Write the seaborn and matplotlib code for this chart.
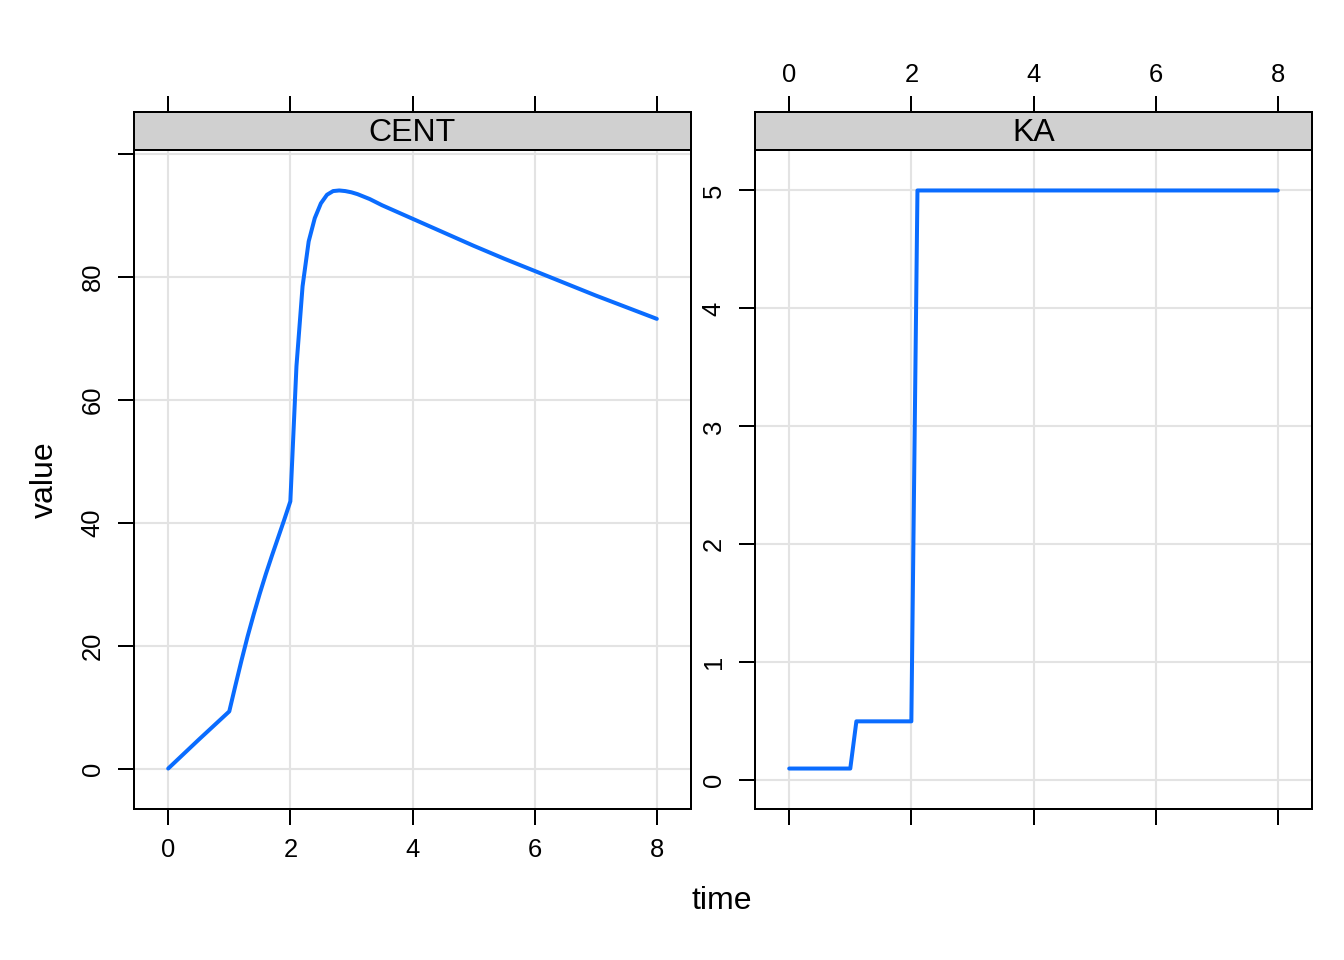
import matplotlib
matplotlib.use("Agg")
import matplotlib.pyplot as plt
import seaborn as sns
import numpy as np
import pandas as pd

# values
cent_time = [0, 0.5, 1.0, 1.1, 1.2, 1.3, 1.4, 1.5, 1.6, 1.7, 1.8, 1.9, 2.0,
             2.1, 2.2, 2.3, 2.4, 2.5, 2.6, 2.7, 2.8, 2.9, 3.0,
             3.1, 3.2, 3.3, 3.4, 3.5, 3.75, 4.0, 4.5, 5.0, 5.5, 6.0,
             6.5, 7.0, 7.5, 8.0]
cent_value = [0, 4.7, 9.3, 13.5, 17.6, 21.5, 25.1, 28.5, 31.7, 34.7, 37.6, 40.5, 43.5,
              65.5, 78.5, 85.8, 89.6, 92.0, 93.4, 94.0, 94.1, 94.0, 93.8,
              93.5, 93.1, 92.7, 92.2, 91.7, 90.6, 89.5, 87.3, 85.1, 83.0, 81.0,
              79.0, 77.0, 75.1, 73.2]
ka_time = [0, 1.0, 1.1, 2.0, 2.1, 8.0]
ka_value = [0.1, 0.1, 0.5, 0.5, 5.0, 5.0]

panels = ["CENT", "KA"]
x_ticks = [0, 2, 4, 6, 8]
cent_ticks = [0, 20, 40, 60, 80, 100]
cent_labels = ["0", "20", "40", "60", "80", ""]
ka_ticks = [0, 1, 2, 3, 4, 5]

line_col = "#0a6cff"
grid_col = "#e3e3e3"
strip_col = "#d0d0d0"

sns.set_style("white")
plt.rcParams["font.family"] = ["Liberation Sans", "DejaVu Sans"]
plt.rcParams["text.color"] = "black"
plt.rcParams["xtick.color"] = "black"
plt.rcParams["ytick.color"] = "black"
plt.rcParams["axes.labelcolor"] = "black"

df = pd.concat([
    pd.DataFrame({"time": cent_time, "value": cent_value, "name": "CENT"}),
    pd.DataFrame({"time": ka_time, "value": ka_value, "name": "KA"}),
])


def padded(lo, hi, f=0.07):
    d = hi - lo
    return lo - f * d, hi + f * d


W, H = 1344, 960
fig = plt.figure(figsize=(7, 5), dpi=192)

panel_left = [134, 755]
panel_w = 557
panel_top, panel_bot, strip_top = 150, 809, 112

for i, name in enumerate(panels):
    sub = df[df["name"] == name]
    ax = fig.add_axes([panel_left[i] / W, 1 - panel_bot / H,
                       panel_w / W, (panel_bot - panel_top) / H])
    st = fig.add_axes([panel_left[i] / W, 1 - panel_top / H,
                       panel_w / W, (panel_top - strip_top) / H], sharex=ax)

    sns.lineplot(data=sub, x="time", y="value", ax=ax, color=line_col,
                 linewidth=1.5, estimator=None, sort=False)

    ax.set_xlim(*padded(sub["time"].min(), sub["time"].max()))
    ax.set_ylim(*padded(sub["value"].min(), sub["value"].max()))
    ax.set_xticks(x_ticks)
    if name == "CENT":
        ax.set_yticks(cent_ticks, cent_labels)
    else:
        ax.set_yticks(ka_ticks, [str(t) for t in ka_ticks])
    for lab in ax.get_yticklabels():
        lab.set_rotation(90)
        lab.set_va("center")

    ax.grid(True, color=grid_col, linewidth=0.8)
    ax.set_axisbelow(True)
    ax.set_xlabel("")
    ax.set_ylabel("")
    for sp in ax.spines.values():
        sp.set_color("black")
        sp.set_linewidth(0.75)
    ax.tick_params(axis="both", direction="out", length=6, width=0.75,
                   labelsize=9.6, pad=5, color="black", labelcolor="black")
    ax.tick_params(axis="x", bottom=True, labelbottom=(i == 0))
    ax.tick_params(axis="y", left=True)

    # strip with panel name, top ticks drawn on it
    st.set_facecolor(strip_col)
    st.set_yticks([])
    for sp in st.spines.values():
        sp.set_color("black")
        sp.set_linewidth(0.75)
    st.tick_params(axis="x", bottom=False, labelbottom=False, top=True,
                   labeltop=(i == 1), direction="out", length=6, width=0.75,
                   labelsize=9.6, pad=3.5, color="black", labelcolor="black")
    st.text(0.5, 0.45, name, transform=st.transAxes, ha="center", va="center",
            fontsize=12, color="black")

fig.text(45 / W, 1 - 480 / H, "value", rotation=90, ha="center", va="center",
         fontsize=12, color="black")
fig.text(722 / W, 1 - 901 / H, "time", ha="center", va="center", fontsize=12,
         color="black")

fig.savefig("out.png", dpi=192, facecolor="white")
